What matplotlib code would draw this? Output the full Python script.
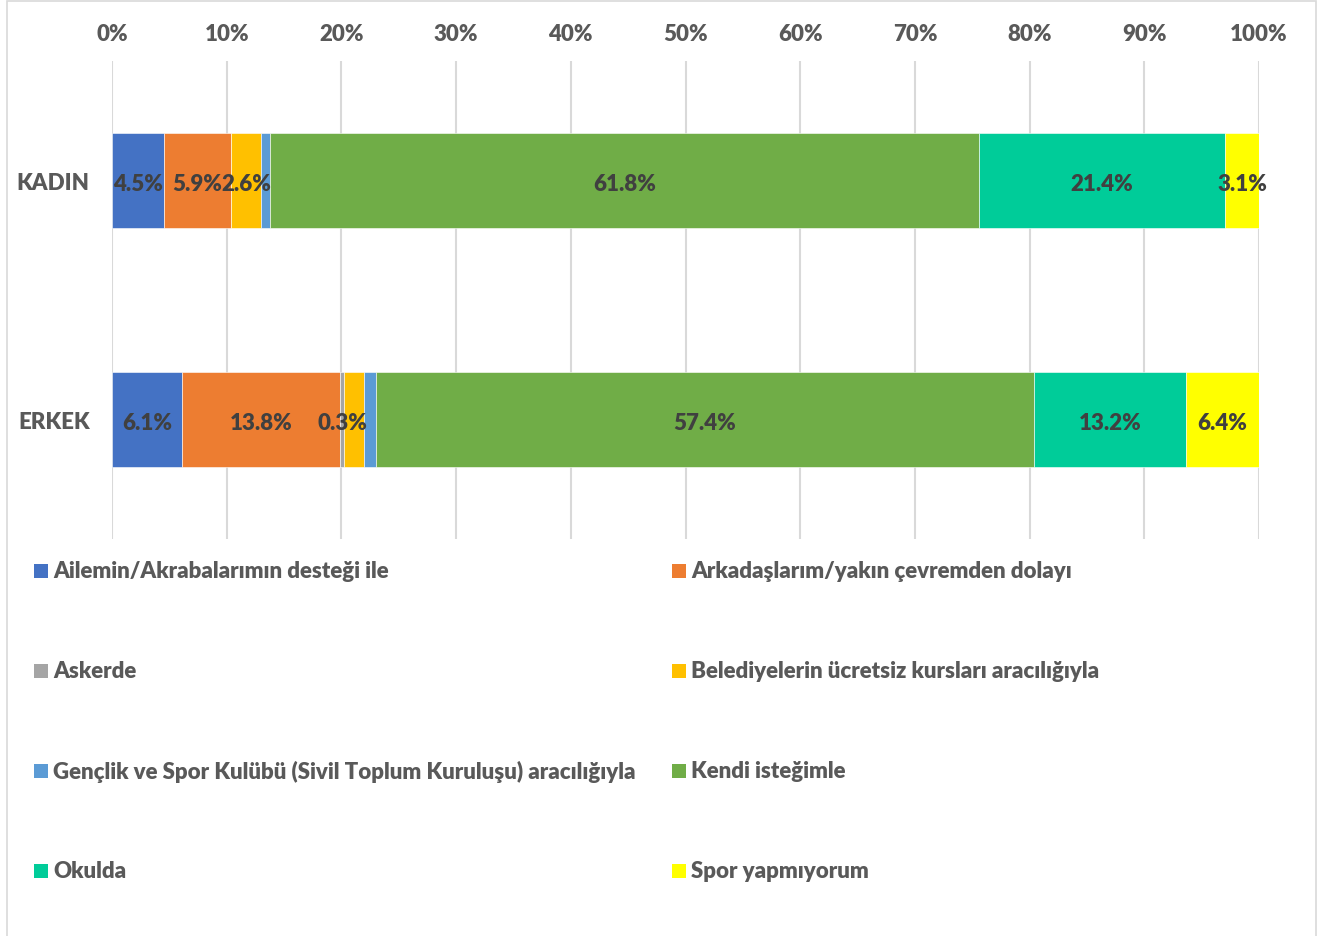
"""Stacked percentage bars: how women and men started doing sport."""

import matplotlib
matplotlib.use("Agg")
import matplotlib.pyplot as plt
from matplotlib.patches import Rectangle
from matplotlib.ticker import PercentFormatter

plt.rcParams["font.family"] = ["Lato", "DejaVu Sans"]

groups = ["KADIN", "ERKEK"]
categories = [
    "Ailemin/Akrabalarımın desteği ile",
    "Arkadaşlarım/yakın çevremden dolayı",
    "Askerde",
    "Belediyelerin ücretsiz kursları aracılığıyla",
    "Gençlik ve Spor Kulübü (Sivil Toplum Kuruluşu) aracılığıyla",
    "Kendi isteğimle",
    "Okulda",
    "Spor yapmıyorum",
]
kadin = [4.5, 5.9, 0.0, 2.6, 0.8, 61.8, 21.4, 3.1]
erkek = [6.1, 13.8, 0.3, 1.8, 1.0, 57.4, 13.2, 6.4]
# which segments carry a value label in each row
kadin_labeled = [True, True, False, True, False, True, True, True]
erkek_labeled = [True, True, True, False, False, True, True, True]

colors = ["#4472C4", "#ED7D31", "#A5A5A5", "#FFC000",
          "#5B9BD5", "#70AD47", "#00CC99", "#FFFF00"]
TEXT = "#595959"
LABEL = "#404040"
FS = 16

W, H = 1327, 937
fig = plt.figure(figsize=(W / 100, H / 100), dpi=100)
ax = fig.add_axes([112 / W, 1 - 540 / H, (1259 - 112) / W, 478 / H])

values = [kadin, erkek]
shown = [kadin_labeled, erkek_labeled]
for row, (vals, flags) in enumerate(zip(values, shown)):
    left = 0.0
    for j, v in enumerate(vals):
        ax.barh(row, v, left=left, height=0.4, color=colors[j],
                edgecolor="white", linewidth=0.4, zorder=3)
        if flags[j]:
            ax.text(left + v / 2, row + 0.012, f"{v:.1f}%", ha="center",
                    va="center", fontsize=FS, fontweight="heavy",
                    color=LABEL, zorder=4)
        left += v

ax.set_xlim(0, 100)
ax.set_ylim(1.5, -0.5)
ax.set_yticks(range(len(groups)))
ax.set_yticklabels(groups)
ax.set_xticks(range(0, 101, 10))
ax.xaxis.set_major_formatter(PercentFormatter(decimals=0))
ax.xaxis.tick_top()
ax.tick_params(axis="x", length=0, pad=12, labelsize=FS, labelcolor=TEXT)
ax.tick_params(axis="y", length=0, pad=16, labelsize=FS, labelcolor=TEXT)
for lab in ax.get_xticklabels() + ax.get_yticklabels():
    lab.set_fontweight("heavy")
ax.grid(axis="x", color="#D9D9D9", linewidth=1.5, zorder=0)
for s in ax.spines.values():
    s.set_visible(False)

# two-column legend below the plot
for i, (name, c) in enumerate(zip(categories, colors)):
    r, col = divmod(i, 2)
    x = [34, 672][col]
    y = 572 + 100 * r
    fig.patches.append(Rectangle((x / W, 1 - (y + 7) / H), 14 / W, 14 / H,
                                 transform=fig.transFigure, facecolor=c,
                                 edgecolor="none"))
    fig.text((x + 19) / W, 1 - y / H, name, ha="left", va="center",
             fontsize=FS, fontweight="heavy", color=TEXT)

# chart frame
fig.patches.append(Rectangle((7 / W, -0.01), (1316 - 7) / W, 1 - 2 / H + 0.01,
                             transform=fig.transFigure, fill=False,
                             edgecolor="#D9D9D9", linewidth=1.2))

fig.savefig("out.png", dpi=100)
